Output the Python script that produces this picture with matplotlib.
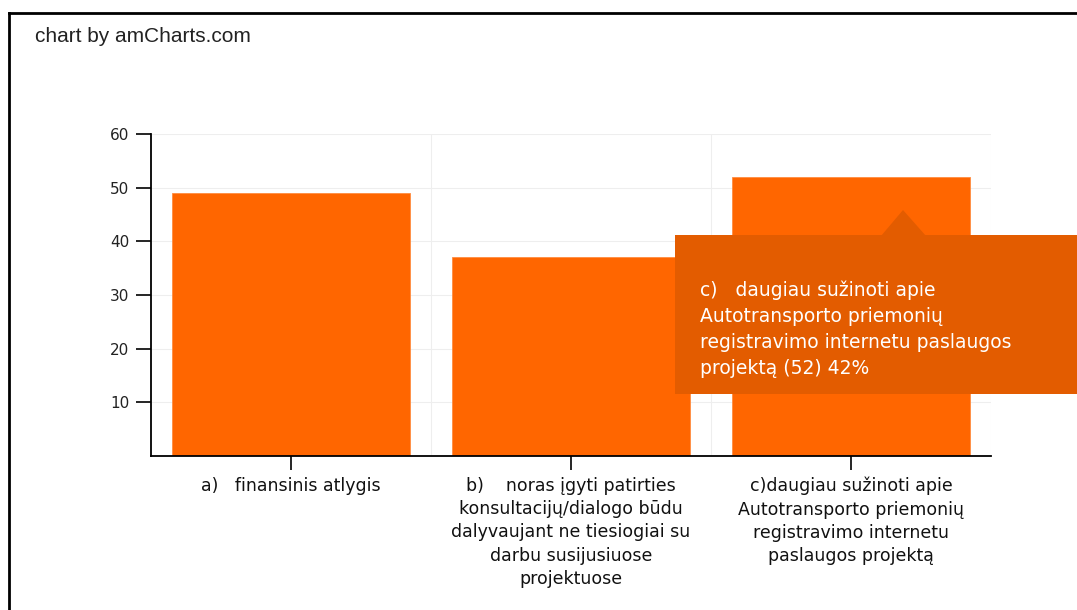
import matplotlib
matplotlib.use("Agg")
import matplotlib.pyplot as plt
from matplotlib.patches import Rectangle, Polygon
from matplotlib.lines import Line2D

# duomenys
categories = [
    "a)   finansinis atlygis",
    "b)    noras įgyti patirties\nkonsultacijų/dialogo būdu\ndalyvaujant ne tiesiogiai su\ndarbu susijusiuose\nprojektuose",
    "c)daugiau sužinoti apie\nAutotransporto priemonių\nregistravimo internetu\npaslaugos projektą",
]
values = [49, 37, 52]
y_ticks = [10, 20, 30, 40, 50, 60]
tooltip_text = ("c)   daugiau sužinoti apie\nAutotransporto priemonių\n"
                "registravimo internetu paslaugos\nprojektą (52) 42%")

W, H = 1077, 610
fig = plt.figure(figsize=(W / 100, H / 100), dpi=100)
fig.patch.set_facecolor("white")

def px(x, y):
    # pikselių koordinatės -> figūros dalys
    return x / W, 1 - y / H

ax = fig.add_axes([151 / W, 1 - 456 / H, 840 / W, 322 / H])
pos = list(range(len(categories)))
ax.bar(pos, values, width=0.85, color="#FF6600", edgecolor="#FF8C40", linewidth=0.6, zorder=2)
ax.set_xlim(-0.5, len(categories) - 0.5)
ax.set_ylim(0, 60)
ax.set_yticks(y_ticks)
ax.set_yticklabels([str(t) for t in y_ticks], fontsize=11, color="#222222")
ax.set_xticks(pos)
ax.set_xticklabels(categories, fontsize=12.5, linespacing=1.38, color="#111111")
ax.tick_params(axis="y", length=10.5, width=1.2, pad=5)
ax.tick_params(axis="x", length=10, width=1.2, pad=5)

# tinklelis
for t in y_ticks:
    ax.axhline(t, color="#EEEEEE", linewidth=0.8, zorder=0)
for b in [0.5, 1.5, 2.5]:
    ax.axvline(b, color="#EEEEEE", linewidth=0.8, zorder=0)

for s in ["top", "right"]:
    ax.spines[s].set_visible(False)
for s in ["left", "bottom"]:
    ax.spines[s].set_linewidth(1.3)

# rėmelis
fig.add_artist(Line2D([9 / W, 9 / W], [0, 1 - 13 / H], transform=fig.transFigure, color="black", linewidth=2))
fig.add_artist(Line2D([9 / W, 1], [1 - 13 / H, 1 - 13 / H], transform=fig.transFigure, color="black", linewidth=2))

fig.text(*px(35, 37), "chart by amCharts.com", fontsize=15, family="Liberation Sans",
         va="center", ha="left", color="#222222")

# užuomina
tip = "#E35C00"
x0, y0 = px(675, 394)
x1, y1 = px(1080, 235)
fig.add_artist(Rectangle((x0, y0), x1 - x0, y1 - y0, transform=fig.transFigure,
                         facecolor=tip, edgecolor="none", zorder=5))
fig.add_artist(Polygon([px(881, 236), px(903, 210), px(926, 236)], closed=True,
                       transform=fig.transFigure, facecolor=tip, edgecolor="none", zorder=5))
fig.text(*px(700, 280), tooltip_text, fontsize=13.5, color="white", va="top", ha="left",
         linespacing=1.48, zorder=6)

fig.savefig("out.png", dpi=100)
